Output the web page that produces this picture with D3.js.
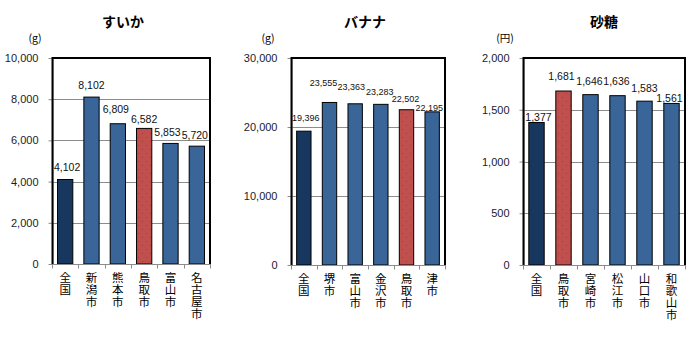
<!DOCTYPE html>
<html>
<head>
<meta charset="utf-8">
<script src="https://cdn.jsdelivr.net/npm/d3@7"></script>
<style>
  html, body { margin: 0; padding: 0; background: #fff; }
  svg { display: block; }
  .vlabel { writing-mode: vertical-rl; text-orientation: upright; }
</style>
</head>
<body>
<svg id="chart" width="700" height="340"></svg>
<script>
// すいか (g)
const suikaCats = ["全国", "新潟市", "熊本市", "鳥取市", "富山市", "名古屋市"];
const suikaVals = [4102, 8102, 6809, 6582, 5853, 5720];
const suikaTicks = [0, 2000, 4000, 6000, 8000, 10000];

// バナナ (g)
const bananaCats = ["全国", "堺市", "富山市", "金沢市", "鳥取市", "津市"];
const bananaVals = [19396, 23555, 23363, 23283, 22502, 22195];
const bananaTicks = [0, 10000, 20000, 30000];

// 砂糖 (円)
const sugarCats = ["全国", "鳥取市", "宮崎市", "松江市", "山口市", "和歌山市"];
const sugarVals = [1377, 1681, 1646, 1636, 1583, 1561];
const sugarTicks = [0, 500, 1000, 1500, 2000];

const titles = ["すいか", "バナナ", "砂糖"];
const units = ["(g)", "(g)", "(円)"];

const NAVY = "#17375E", BLUE = "#3A6598", RED = "#C0504D";
const fmt = d3.format(",");
const svg = d3.select("#chart");

// sparse dotted fill used on the city bars
const defs = svg.append("defs");
[["dotBlue", BLUE], ["dotRed", RED]].forEach(([id, col]) => {
  const p = defs.append("pattern").attr("id", id)
    .attr("patternUnits", "userSpaceOnUse").attr("width", 8).attr("height", 8);
  p.append("rect").attr("width", 8).attr("height", 8).attr("fill", col);
  p.append("rect").attr("x", 2).attr("y", 1).attr("width", 1).attr("height", 1).attr("fill", "#6b3f9e").attr("opacity", 0.8);
  p.append("rect").attr("x", 6).attr("y", 5).attr("width", 1).attr("height", 1).attr("fill", "#6b3f9e").attr("opacity", 0.8);
});

const panels = [
  { cats: suikaCats, vals: suikaVals, ticks: suikaTicks, title: titles[0], unit: units[0],
    x0: 52, x1: 210, y0: 58, y1: 264, titleX: 123, unitX: 35, labelSize: 10.5, barFrac: 0.58,
    lift: [12, 11.5, 14, 9, 11, 11], shift: [2, 0, -2, 0, -3, -2] },
  { cats: bananaCats, vals: bananaVals, ticks: bananaTicks, title: titles[1], unit: units[1],
    x0: 291, x1: 445, y0: 58, y1: 265, titleX: 365, unitX: 268, labelSize: 9, barFrac: 0.56,
    lift: [13, 20, 17, 12.5, 11, 4], shift: [2, -6, -4, -1, -1, -3] },
  { cats: sugarCats, vals: sugarVals, ticks: sugarTicks, title: titles[2], unit: units[2],
    x0: 523, x1: 685, y0: 58, y1: 265, titleX: 604, unitX: 505, labelSize: 10.5, barFrac: 0.57,
    lift: [5.5, 15, 13, 14, 13, 5.5], shift: [2, -2, -1, -1, 0, -2] }
];

panels.forEach(pn => {
  const g = svg.append("g");
  const slots = d3.scaleBand().domain(pn.cats).range([pn.x0, pn.x1]);
  const sw = slots.bandwidth();
  const bw = sw * pn.barFrac;
  const y = d3.scaleLinear().domain([0, d3.max(pn.ticks)]).range([pn.y1, pn.y0]);

  // title and unit
  g.append("text").attr("x", pn.titleX).attr("y", 27).attr("text-anchor", "middle")
    .attr("font-family", "'Noto Sans CJK JP', sans-serif").attr("font-weight", "bold")
    .attr("font-size", 14).attr("fill", "#000").text(pn.title);
  g.append("text").attr("x", pn.unitX).attr("y", 42).attr("text-anchor", "middle")
    .attr("font-family", "'Noto Sans CJK JP', sans-serif")
    .attr("font-size", 10.5).attr("fill", "#000").text(pn.unit);

  // gridlines
  g.selectAll(".grid").data(pn.ticks.filter(t => t > 0)).join("line")
    .attr("x1", pn.x0).attr("x2", pn.x1)
    .attr("y1", d => Math.round(y(d)) + 0.5).attr("y2", d => Math.round(y(d)) + 0.5)
    .attr("stroke", "#8c8c8c").attr("stroke-width", 1);

  // y axis
  const ya = g.append("g").attr("transform", `translate(${pn.x0 + 0.5},0)`)
    .call(d3.axisLeft(y).tickValues(pn.ticks).tickFormat(fmt).tickSize(4).tickSizeOuter(0).tickPadding(10));
  ya.selectAll("path, line").attr("stroke", "#8c8c8c");
  ya.selectAll("text").attr("font-family", "'Liberation Sans', Arial, sans-serif")
    .attr("font-size", 11).attr("fill", "#1a1a2e");

  // bars
  g.selectAll(".bar").data(pn.vals).join("rect")
    .attr("x", (d, i) => slots(pn.cats[i]) + (sw - bw) / 2)
    .attr("y", d => y(d))
    .attr("width", bw)
    .attr("height", d => pn.y1 - y(d))
    .attr("fill", (d, i) => i === 0 ? NAVY : (pn.cats[i] === "鳥取市" ? "url(#dotRed)" : "url(#dotBlue)"))
    .attr("stroke", "#000").attr("stroke-width", 1);

  // value labels
  g.selectAll(".val").data(pn.vals).join("text")
    .attr("x", (d, i) => slots(pn.cats[i]) + sw / 2 + pn.shift[i])
    .attr("y", (d, i) => y(d) - pn.lift[i])
    .attr("dy", "0.35em").attr("text-anchor", "middle")
    .attr("font-family", "'Liberation Sans', Arial, sans-serif")
    .attr("font-size", pn.labelSize).attr("fill", "#111")
    .text(d => fmt(d));

  // plot frame
  g.append("path")
    .attr("d", `M${pn.x0 + 0.5},${pn.y1}V${pn.y0}H${pn.x1}V${pn.y1}`)
    .attr("fill", "none").attr("stroke", "#000").attr("stroke-width", 2);

  // x axis with ticks at slot boundaries
  const xa = g.append("g").attr("transform", `translate(0,${pn.y1 + 0.5})`);
  xa.append("line").attr("x1", pn.x0).attr("x2", pn.x1 + 1).attr("stroke", "#8c8c8c");
  const bounds = pn.cats.map(c => slots(c)).concat([pn.x1]);
  xa.selectAll(".tk").data(bounds).join("line")
    .attr("x1", d => Math.round(d) + 0.5).attr("x2", d => Math.round(d) + 0.5)
    .attr("y1", 0).attr("y2", 4).attr("stroke", "#8c8c8c");

  // vertical category names
  g.selectAll(".cat").data(pn.cats).join("text")
    .attr("class", "vlabel")
    .attr("x", c => slots(c) + sw / 2)
    .attr("y", pn.y1 + 8)
    .attr("font-family", "'Noto Sans CJK JP', sans-serif")
    .attr("font-size", 11.5).attr("letter-spacing", 0.3).attr("fill", "#000")
    .text(c => c);
});
</script>
</body>
</html>
